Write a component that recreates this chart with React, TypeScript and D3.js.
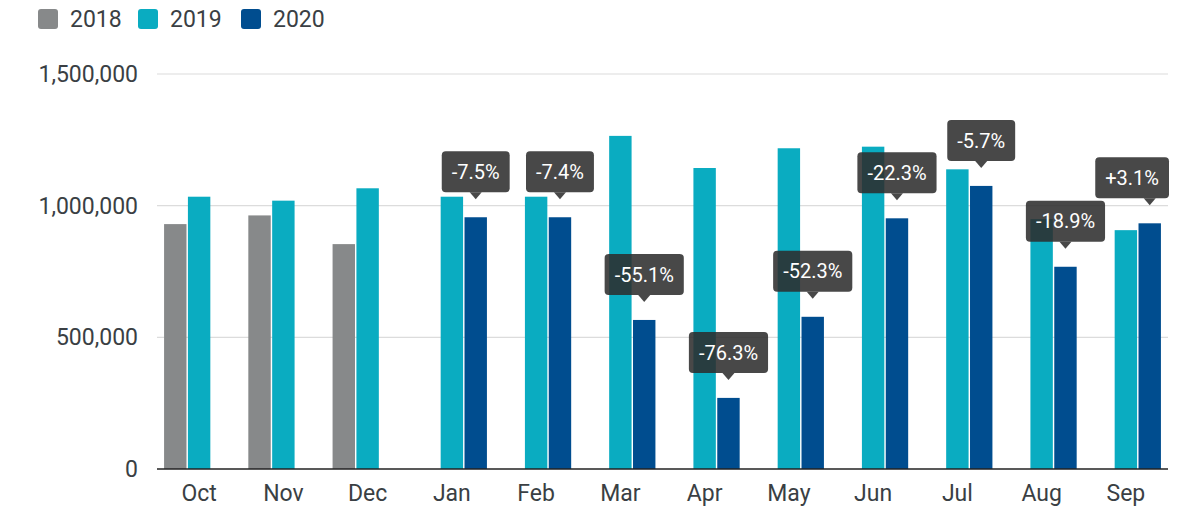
import * as d3 from 'd3';

const months = ['Oct', 'Nov', 'Dec', 'Jan', 'Feb', 'Mar', 'Apr', 'May', 'Jun', 'Jul', 'Aug', 'Sep'];
const seriesNames = ['2018', '2019', '2020'];
const values2018: (number | null)[] = [930000, 963000, 854000, null, null, null, null, null, null, null, null, null];
const values2019: (number | null)[] = [1034000, 1019000, 1066000, 1034000, 1034000, 1265000, 1143000, 1218000, 1224000, 1138000, 949000, 907000];
const values2020: (number | null)[] = [null, null, null, 956000, 956000, 566000, 270000, 578000, 952000, 1075000, 768000, 933000];
const changeLabels: (string | null)[] = [null, null, null, '-7.5%', '-7.4%', '-55.1%', '-76.3%', '-52.3%', '-22.3%', '-5.7%', '-18.9%', '+3.1%'];
const yTicks = [0, 500000, 1000000, 1500000];

const colors = ['#87898a', '#0aacc1', '#004d8f'];
const allSeries = [values2018, values2019, values2020];

const W = 1200;
const H = 509;
const margin = { top: 74, right: 32, bottom: 40, left: 157 };
const textColor = '#3a3f44';

function measure(text: string, font: string) {
  const c = document.createElement('canvas').getContext('2d');
  if (!c) return text.length * 11;
  c.font = font;
  return c.measureText(text).width;
}

export default function App() {
  const x0 = d3
    .scaleBand<string>()
    .domain(months)
    .range([margin.left, W - margin.right])
    .paddingInner(0.134)
    .paddingOuter(0.067);
  const x1 = d3.scaleBand<string>().domain(seriesNames).range([0, x0.bandwidth()]).padding(0.06);
  const y = d3.scaleLinear().domain([0, 1500000]).range([H - margin.bottom, margin.top]);
  const fmt = d3.format(',');

  const labelFont = '20px Roboto';
  const plotRight = W - margin.right;

  return (
    <svg
      width={W}
      height={H}
      style={{ position: 'absolute', left: 0, top: 0, fontFamily: 'Roboto, sans-serif' }}
    >
      <rect width={W} height={H} fill="#fff" />

      {/* legend */}
      {seriesNames.map((s, i) => {
        const lx = [38, 138, 241][i];
        return (
          <g key={s}>
            <rect x={lx} y={9} width={20} height={20} rx={3} fill={colors[i]} />
            <text x={lx + 32} y={27} fontSize={23} fill={textColor}>
              {s}
            </text>
          </g>
        );
      })}

      {/* grid + y axis */}
      {yTicks.map((t) => (
        <g key={t}>
          {t > 0 && (
            <line x1={margin.left} x2={plotRight} y1={y(t)} y2={y(t)} stroke="#dcdcdc" strokeWidth={1.2} />
          )}
          <text x={138} y={y(t)} dy="0.35em" textAnchor="end" fontSize={23} fill={textColor}>
            {fmt(t)}
          </text>
        </g>
      ))}

      {/* bars */}
      {months.map((m, mi) => (
        <g key={m} transform={`translate(${x0(m)},0)`}>
          {allSeries.map((vals, si) => {
            const v = vals[mi];
            if (v == null) return null;
            return (
              <rect
                key={si}
                x={x1(seriesNames[si])}
                y={y(v)}
                width={x1.bandwidth()}
                height={y(0) - y(v)}
                fill={colors[si]}
              />
            );
          })}
        </g>
      ))}

      {/* baseline */}
      <line x1={margin.left} x2={plotRight} y1={y(0)} y2={y(0)} stroke="#222" strokeWidth={1.6} />

      {/* x labels */}
      {months.map((m) => (
        <text
          key={m}
          x={(x0(m) ?? 0) + x0.bandwidth() / 2}
          y={501}
          textAnchor="middle"
          fontSize={23}
          fill={textColor}
        >
          {m}
        </text>
      ))}

      {/* change callouts */}
      {months.map((m, mi) => {
        const label = changeLabels[mi];
        const v = values2020[mi];
        if (!label || v == null) return null;
        const cx = (x0(m) ?? 0) + (x1('2020') ?? 0) + x1.bandwidth() / 2;
        const tip = y(v) - 18;
        const boxH = 41;
        const boxBottom = tip - 7;
        const w = measure(label, labelFont) + 20;
        // keep the box inside the plot area
        const boxX = Math.min(cx - w / 2, plotRight + 1 - w);
        const path = `M${cx - 6},${boxBottom} L${cx},${tip} L${cx + 6},${boxBottom} Z`;
        return (
          <g key={m}>
            <rect x={boxX} y={boxBottom - boxH} width={w} height={boxH} rx={4} fill="rgba(45,45,45,0.87)" />
            <path d={path} fill="rgba(45,45,45,0.87)" />
            <text
              x={boxX + w / 2}
              y={boxBottom - boxH / 2}
              dy="0.36em"
              textAnchor="middle"
              fontSize={20}
              fill="#fff"
            >
              {label}
            </text>
          </g>
        );
      })}
    </svg>
  );
}
